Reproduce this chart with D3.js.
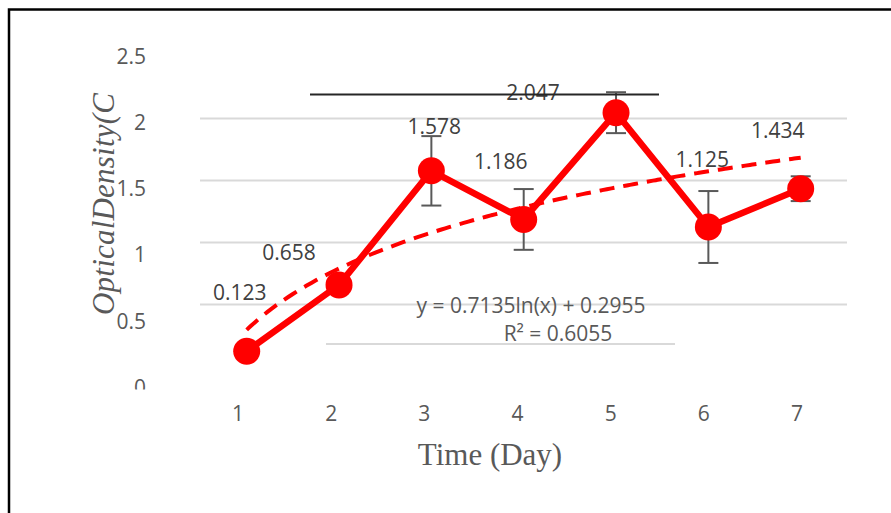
<!DOCTYPE html>
<html>
<head>
<meta charset="utf-8">
<script src="https://cdn.jsdelivr.net/npm/d3@7"></script>
<style>
  body { margin: 0; background: #fff; }
  svg { display: block; }
</style>
</head>
<body>
<div id="chart"></div>
<script>
(function (d3) {
  'use strict';

  // Data
  var days = [1, 2, 3, 4, 5, 6, 7];
  var density = [0.123, 0.658, 1.578, 1.186, 2.047, 1.125, 1.434];
  var errors = [0, 0.04, 0.28, 0.245, 0.165, 0.29, 0.1];
  var yTicks = [0, 0.5, 1, 1.5, 2, 2.5];
  var gridTicks = [0.5, 1, 1.5, 2];
  var trendSlope = 0.7135, trendIntercept = 0.2955;
  var trendLabel = 'y = 0.7135ln(x) + 0.2955';
  var r2Label = 'R² = 0.6055';

  // Label nudges (pixels) for the data labels
  var labelNudge = [[-7, -59], [-50, -32], [3, -44], [-23, -58], [-83, -20], [-6, -68], [-23, -58]];

  var width = 891, height = 513;
  var font = '"Open Sans", "Noto Sans", sans-serif';

  var svg = d3.select('#chart').append('svg')
    .attr('width', width)
    .attr('height', height);

  // Scales
  var x = d3.scaleLinear().domain([1, 7]).range([246.7, 800.7]);
  var y = d3.scaleLinear().domain([0, 2.5]).range([366.5, 56.5]);
  // the category / value labels sit slightly off the plot grid
  var xLab = d3.scaleLinear().domain([1, 7]).range([238, 797]);
  var yLab = d3.scaleLinear().domain([0, 2.5]).range([387, 56.7]);

  // Frame (top and left edges only)
  svg.append('path')
    .attr('d', 'M9,513V9.5H891')
    .style('fill', 'none')
    .style('stroke', '#000')
    .style('stroke-width', 2.5);

  // Gridlines
  svg.append('g').selectAll('line')
    .data(gridTicks)
    .enter().append('line')
      .attr('x1', 200).attr('x2', 847)
      .attr('y1', function(d) { return y(d); })
      .attr('y2', function(d) { return y(d); })
      .style('stroke', '#d9d9d9')
      .style('stroke-width', 2);

  // Stray lines of the original
  svg.append('line')
    .attr('x1', 326).attr('x2', 675).attr('y1', 344).attr('y2', 344)
    .style('stroke', '#d9d9d9').style('stroke-width', 2);

  // Y tick labels, clipped at the bottom like the original
  svg.append('clipPath').attr('id', 'tickClip')
    .append('rect').attr('x', 0).attr('y', 0).attr('width', 200).attr('height', 389.5);

  svg.append('g')
    .attr('clip-path', 'url(#tickClip)')
    .selectAll('text')
    .data(yTicks)
    .enter().append('text')
      .attr('x', 146)
      .attr('y', function(d) { return yLab(d); })
      .attr('dy', '0.36em')
      .attr('text-anchor', 'end')
      .style('font-family', font)
      .style('font-size', '21px')
      .style('fill', '#595959')
      .text(function(d) { return d; });

  // X tick labels
  svg.append('g').selectAll('text')
    .data(days)
    .enter().append('text')
      .attr('x', function(d) { return xLab(d); })
      .attr('y', 413)
      .attr('dy', '0.36em')
      .attr('text-anchor', 'middle')
      .style('font-family', font)
      .style('font-size', '21px')
      .style('fill', '#595959')
      .text(function(d) { return d; });

  // Axis titles
  svg.append('text')
    .attr('transform', 'translate(114,204) rotate(-90)')
    .attr('text-anchor', 'middle')
    .attr('textLength', 222)
    .style('font-family', '"Liberation Serif", "DejaVu Serif", serif')
    .style('font-style', 'italic')
    .style('font-size', '31px')
    .style('fill', '#595959')
    .text('OpticalDensity(C');

  svg.append('text')
    .attr('x', 490)
    .attr('y', 465)
    .attr('text-anchor', 'middle')
    .style('font-family', '"Liberation Serif", "DejaVu Serif", serif')
    .style('font-size', '31px')
    .style('fill', '#595959')
    .text('Time (Day)');

  // Logarithmic trendline
  var trendX = d3.range(1, 7.001, 0.05);
  var trendLine = d3.line()
    .x(function(d) { return x(d); })
    .y(function(d) { return y(trendSlope * Math.log(d) + trendIntercept); })
    .curve(d3.curveMonotoneX);

  svg.append('path')
    .datum(trendX)
    .attr('d', trendLine)
    .style('fill', 'none')
    .style('stroke', '#ff0000')
    .style('stroke-width', 4)
    .style('stroke-dasharray', '15,9');

  // Error bars
  var eb = svg.append('g').selectAll('g')
    .data(days)
    .enter().append('g')
      .style('stroke', '#595959')
      .style('stroke-width', 2);

  eb.filter(function(d, i) { return errors[i] > 0; })
    .each(function(d, i0) {
      var i = days.indexOf(d),
          g = d3.select(this),
          cx = x(d),
          top = y(density[i] + errors[i]),
          bot = y(density[i] - errors[i]);
      g.append('line').attr('x1', cx).attr('x2', cx).attr('y1', top).attr('y2', bot);
      g.append('line').attr('x1', cx - 10).attr('x2', cx + 10).attr('y1', top).attr('y2', top);
      g.append('line').attr('x1', cx - 10).attr('x2', cx + 10).attr('y1', bot).attr('y2', bot);
    });

  // Main series
  var line = d3.line()
    .x(function(d, i) { return x(days[i]); })
    .y(function(d) { return y(d); });

  svg.append('path')
    .datum(density)
    .attr('d', line)
    .style('fill', 'none')
    .style('stroke', '#ff0000')
    .style('stroke-width', 6.5)
    .style('stroke-linejoin', 'round');

  svg.append('g').selectAll('circle')
    .data(density)
    .enter().append('circle')
      .attr('cx', function(d, i) { return x(days[i]); })
      .attr('cy', function(d) { return y(d); })
      .attr('r', 13.5)
      .style('fill', '#ff0000');

  // Data labels
  svg.append('g').selectAll('text')
    .data(density)
    .enter().append('text')
      .attr('x', function(d, i) { return x(days[i]) + labelNudge[i][0]; })
      .attr('y', function(d, i) { return y(d) + labelNudge[i][1]; })
      .attr('dy', '0.36em')
      .attr('text-anchor', 'middle')
      .style('font-family', font)
      .style('font-size', '21px')
      .style('fill', '#404040')
      .text(function(d) { return d3.format('.3f')(d); });

  // Black stray line across the top
  svg.append('line')
    .attr('x1', 310).attr('x2', 659).attr('y1', 94.5).attr('y2', 94.5)
    .style('stroke', '#262626').style('stroke-width', 2);

  // Trendline equation
  svg.append('text')
    .attr('x', 531).attr('y', 305).attr('dy', '0.36em')
    .attr('text-anchor', 'middle')
    .style('font-family', font)
    .style('font-size', '21px')
    .style('fill', '#595959')
    .text(trendLabel);

  svg.append('text')
    .attr('x', 558).attr('y', 333).attr('dy', '0.36em')
    .attr('text-anchor', 'middle')
    .style('font-family', font)
    .style('font-size', '21px')
    .style('fill', '#595959')
    .text(r2Label);

}(d3));
</script>
</body>
</html>
